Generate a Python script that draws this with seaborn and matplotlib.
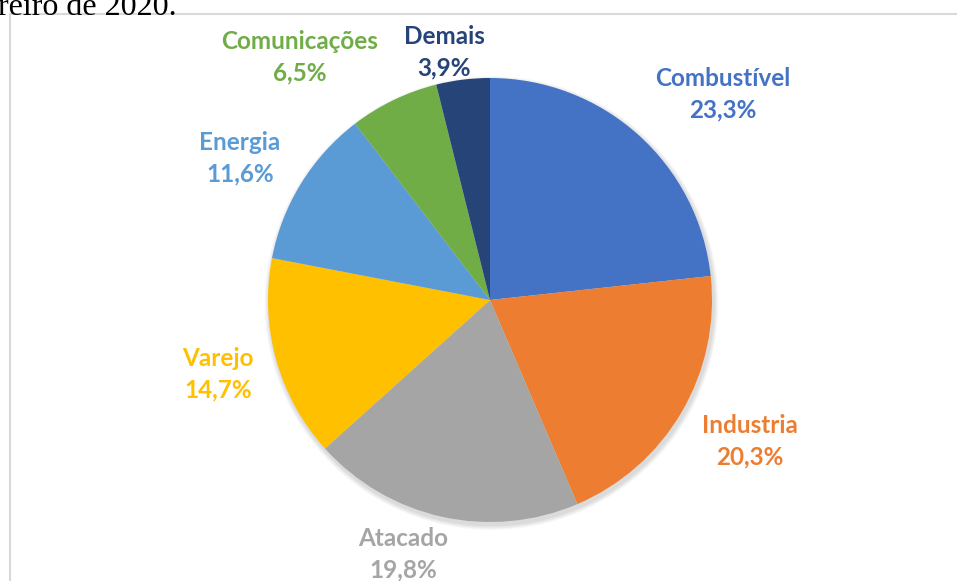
import matplotlib
matplotlib.use("Agg")
import matplotlib.pyplot as plt
from matplotlib.patches import Rectangle, Circle
import seaborn as sns

# Share of each segment (%)
categories = ["Combustível", "Industria", "Atacado", "Varejo", "Energia", "Comunicações", "Demais"]
shares = [23.3, 20.3, 19.8, 14.7, 11.6, 6.5, 3.9]
share_labels = ["23,3%", "20,3%", "19,8%", "14,7%", "11,6%", "6,5%", "3,9%"]

colors = sns.color_palette(["#4472C4", "#ED7D31", "#A5A5A5", "#FFC000",
                            "#5B9BD5", "#70AD47", "#264478"])

sns.set_theme(style="white")
plt.rcParams["font.family"] = ["Lato", "DejaVu Sans"]

W, H, DPI = 957, 581, 100
fig = plt.figure(figsize=(W / DPI, H / DPI), dpi=DPI)
fig.patch.set_facecolor("white")

# pie centre and radius in pixels
cx, cy, R = 490, 300, 222
ax = fig.add_axes([0, 0, 1, 1])

# chart frame
fig.patches.append(Rectangle((10 / W, -0.05), 1.2, 1 - 14 / H + 0.05,
                             transform=fig.transFigure, fill=False,
                             edgecolor="#D9D9D9", linewidth=1.5, zorder=0))

# partial caption line above the frame
fig.text(-2 / W, 1 - 15 / H, "reiro de 2020.", family="Liberation Serif",
         fontsize=23, color="black", ha="left", va="baseline")

# soft drop shadow behind the whole pie
for i, a in enumerate([0.035, 0.035, 0.035, 0.035]):
    ax.add_patch(Circle((1.5 / R, -3.0 / R), 1.0 + (4 - i) * 1.2 / R,
                        facecolor="black", edgecolor="none", alpha=a, zorder=0))

wedges, _ = ax.pie(shares, colors=colors, startangle=90, counterclock=False,
                   radius=1.0, center=(0, 0), frame=True,
                   wedgeprops=dict(linewidth=0, zorder=2))
ax.set_xlim(-cx / R, (W - cx) / R)
ax.set_ylim(-(H - cy) / R, cy / R)
ax.set_aspect("equal")
ax.axis("off")

# label placement (pixel centres of the two-line labels)
label_px = [(723, 94), (750, 441), (403, 554), (218, 374),
            (240, 158), (300, 57), (444, 52)]

for (px, py), name, lab, col in zip(label_px, categories, share_labels, colors):
    x = (px - cx) / R
    y = (cy - py) / R
    ax.text(x, y, f"{name}\n{lab}", ha="center", va="center", color=col,
            fontsize=17.5, fontweight="bold", linespacing=1.45, zorder=3)

fig.savefig("out.png", dpi=DPI, facecolor="white")
